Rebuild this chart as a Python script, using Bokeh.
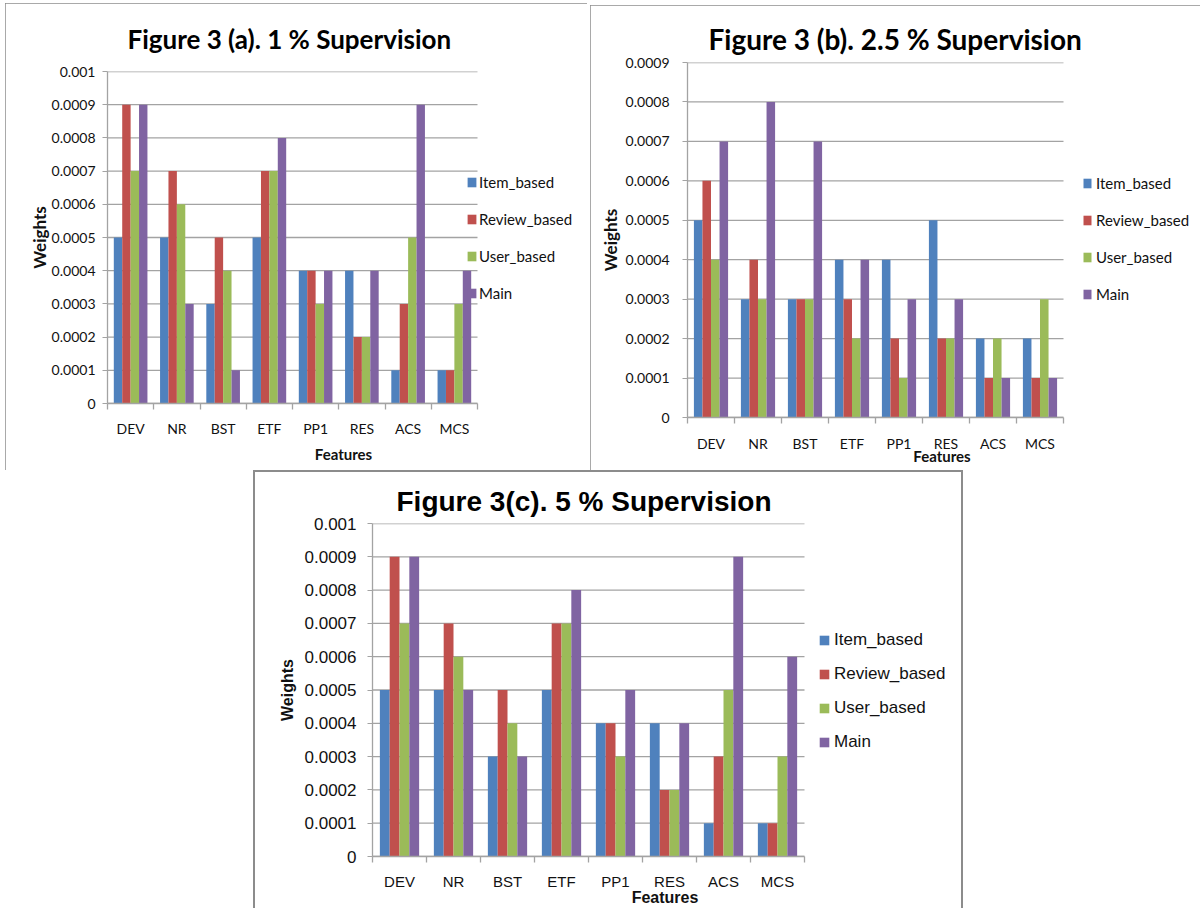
import numpy as np
from bokeh.plotting import figure
from bokeh.models import (Range1d, FixedTicker, CustomJSTickFormatter,
                          Legend, LegendItem, Spacer, Title)
from bokeh.layouts import row, column
from bokeh.embed import file_html
from bokeh.resources import INLINE

features = ["DEV", "NR", "BST", "ETF", "PP1", "RES", "ACS", "MCS"]
series = ["Item_based", "Review_based", "User_based", "Main"]
colors = ["#4F81BD", "#C0504D", "#9BBB59", "#8064A2"]

# feature weights, 1 % supervision
w1_item = [0.0005, 0.0005, 0.0003, 0.0005, 0.0004, 0.0004, 0.0001, 0.0001]
w1_review = [0.0009, 0.0007, 0.0005, 0.0007, 0.0004, 0.0002, 0.0003, 0.0001]
w1_user = [0.0007, 0.0006, 0.0004, 0.0007, 0.0003, 0.0002, 0.0005, 0.0003]
w1_main = [0.0009, 0.0003, 0.0001, 0.0008, 0.0004, 0.0004, 0.0009, 0.0004]

# feature weights, 2.5 % supervision
w25_item = [0.0005, 0.0003, 0.0003, 0.0004, 0.0004, 0.0005, 0.0002, 0.0002]
w25_review = [0.0006, 0.0004, 0.0003, 0.0003, 0.0002, 0.0002, 0.0001, 0.0001]
w25_user = [0.0004, 0.0003, 0.0003, 0.0002, 0.0001, 0.0002, 0.0002, 0.0003]
w25_main = [0.0007, 0.0008, 0.0007, 0.0004, 0.0003, 0.0003, 0.0001, 0.0001]

# feature weights, 5 % supervision
w5_item = [0.0005, 0.0005, 0.0003, 0.0005, 0.0004, 0.0004, 0.0001, 0.0001]
w5_review = [0.0009, 0.0007, 0.0005, 0.0007, 0.0004, 0.0002, 0.0003, 0.0001]
w5_user = [0.0007, 0.0006, 0.0004, 0.0007, 0.0003, 0.0002, 0.0005, 0.0003]
w5_main = [0.0009, 0.0005, 0.0003, 0.0008, 0.0005, 0.0004, 0.0009, 0.0006]

GRID = "#a3a3a3"
BORDER = "#8c8c8c"
INK = "#111111"


def panel(title, values, ymax, cfg):
    n = len(features)
    # the frame also holds the legend, so the x range runs past the last group
    frame_px = cfg["w"] - cfg["ml"] - cfg["mr"]
    x_end = n * frame_px / cfg["plot_px"]
    p = figure(width=cfg["w"], height=cfg["h"],
               x_range=Range1d(0, x_end), y_range=Range1d(0, ymax),
               output_backend="svg", toolbar_location=None,
               min_border_left=cfg["ml"], min_border_right=cfg["mr"],
               min_border_top=cfg["mt"], min_border_bottom=cfg["mb"])
    p.frame_align = False
    p.outline_line_color = None
    p.styles = cfg["styles"]

    yticks = [round(i * 0.0001, 4) for i in range(int(round(ymax / 0.0001)) + 1)]

    # horizontal gridlines over the category span only
    p.xgrid.grid_line_color = None
    p.ygrid.grid_line_color = None
    p.segment(x0=0, x1=n, y0=yticks, y1=yticks, line_color=GRID, line_width=1.3,
              level="underlay")

    # clustered bars: 4 series per feature, gap of 1.5 bar widths
    bar_w = 1 / (len(series) + 1.5)
    centers = np.arange(n) + 0.5
    rends = []
    for k, (vals, col) in enumerate(zip(values, colors)):
        r = p.vbar(x=centers + (k - 1.5) * bar_w, top=vals, bottom=0, width=bar_w,
                   fill_color=col, line_color=None)
        rends.append(r)

    # value axis, one tick per 0.0001
    yax = p.yaxis[0]
    yax.ticker = FixedTicker(ticks=yticks)
    yax.formatter = CustomJSTickFormatter(
        code="return tick == 0 ? '0' : parseFloat(tick.toFixed(4)).toString();")
    yax.axis_line_color = GRID
    yax.axis_line_width = 1.3
    yax.major_tick_line_color = GRID
    yax.major_tick_out = 5
    yax.major_tick_in = 0
    yax.minor_tick_line_color = None
    yax.major_label_text_font = cfg["font"]
    yax.major_label_text_font_size = cfg["ytick_size"]
    yax.major_label_text_color = INK
    yax.major_label_standoff = cfg["ystand"]
    yax.axis_label = "Weights"
    yax.axis_label_text_font = cfg["font"]
    yax.axis_label_text_font_style = "bold"
    yax.axis_label_text_font_size = cfg["ylab_size"]
    yax.axis_label_text_color = INK
    yax.axis_label_standoff = cfg["ylab_stand"]

    # category axis: names at feature centres, short ticks at group boundaries
    xax = p.xaxis[0]
    xax.bounds = (0, n)
    xax.ticker = FixedTicker(ticks=list(centers), minor_ticks=list(range(n + 1)))
    xax.formatter = CustomJSTickFormatter(args=dict(cats=features),
                                          code="return cats[Math.floor(tick)];")
    xax.axis_line_color = GRID
    xax.axis_line_width = 1.3
    xax.major_tick_line_color = None
    xax.major_tick_out = 0
    xax.major_tick_in = 0
    xax.minor_tick_line_color = GRID
    xax.minor_tick_line_width = 1.3
    xax.minor_tick_out = 6
    xax.minor_tick_in = 0
    xax.major_label_text_font = cfg["font"]
    xax.major_label_text_font_size = cfg["xtick_size"]
    xax.major_label_text_color = INK
    xax.major_label_standoff = cfg["xstand"]
    xax.axis_label = "Features"
    xax.axis_label_text_font = cfg["font"]
    xax.axis_label_text_font_style = "bold"
    xax.axis_label_text_font_size = cfg["xlab_size"]
    xax.axis_label_text_color = INK
    xax.axis_label_standoff = cfg["xlab_stand"]

    # chart title
    p.add_layout(Title(text=title, align="left", offset=cfg["toff"],
                       vertical_align="bottom", standoff=cfg["tstand"],
                       text_font=cfg["font"], text_font_style="bold",
                       text_font_size=cfg["title_size"], text_color="#000000"), "above")

    # series legend to the right of the bars
    leg = Legend(items=[LegendItem(label=s, renderers=[r]) for s, r in zip(series, rends)],
                 location=cfg["leg_loc"], orientation="vertical",
                 background_fill_alpha=0, border_line_color=None,
                 padding=0, margin=0, spacing=cfg["leg_spacing"],
                 glyph_width=cfg["gw"], glyph_height=12, label_height=20,
                 label_standoff=cfg["leg_stand"],
                 label_text_font=cfg["font"], label_text_font_size=cfg["leg_size"],
                 label_text_color=INK)
    p.add_layout(leg)
    return p


cfg_a = dict(w=582, h=467, ml=102, mr=8, mt=67, mb=67, plot_px=370,
             styles={"outline": f"2px solid {BORDER}", "outline-offset": "-2px"},
             font="Lato", ytick_size="14px", xtick_size="14px", ystand=7,
             ylab_size="17px", ylab_stand=-1, xstand=10, xlab_size="15px", xlab_stand=5,
             toff=20, tstand=34, title_size="26px",
             leg_loc=(359, 100), leg_spacing=17, gw=11, leg_stand=2, leg_size="15px")

cfg_b = dict(w=610, h=465, ml=97, mr=4, mt=57, mb=53, plot_px=376,
             styles={"outline": f"2px solid {BORDER}", "outline-offset": "-2px"},
             font="Lato", ytick_size="14px", xtick_size="14px", ystand=13,
             ylab_size="17px", ylab_stand=2, xstand=11, xlab_size="15px", xlab_stand=-8,
             toff=21, tstand=14, title_size="28px",
             leg_loc=(395, 113), leg_spacing=17, gw=10, leg_stand=4, leg_size="15px")

cfg_c = dict(w=706, h=436, ml=117, mr=4, mt=51, mb=51, plot_px=432,
             styles={"outline": f"2px solid {BORDER}", "outline-offset": "0px",
                     "clip-path": "inset(-2px -2px 0px -2px)"},
             font="Liberation Sans", ytick_size="17px", xtick_size="15px", ystand=11,
             ylab_size="16px", ylab_stand=6, xstand=10, xlab_size="16px", xlab_stand=-4,
             toff=24, tstand=14, title_size="28px",
             leg_loc=(446, 104), leg_spacing=14, gw=12, leg_stand=4, leg_size="17px")

pa = panel("Figure 3 (a). 1 % Supervision", [w1_item, w1_review, w1_user, w1_main], 0.001, cfg_a)
pb = panel("Figure 3 (b). 2.5 % Supervision", [w25_item, w25_review, w25_user, w25_main], 0.0009, cfg_b)
pc = panel("Figure 3(c). 5 % Supervision", [w5_item, w5_review, w5_user, w5_main], 0.001, cfg_c)

layout = column(
    Spacer(width=1200, height=3),
    row(Spacer(width=5, height=467), pa, Spacer(width=3, height=467),
        column(Spacer(width=610, height=2), pb)),
    Spacer(width=1200, height=2),
    row(Spacer(width=255, height=436), pc),
)

open("out.html", "w").write(file_html(layout, INLINE))
